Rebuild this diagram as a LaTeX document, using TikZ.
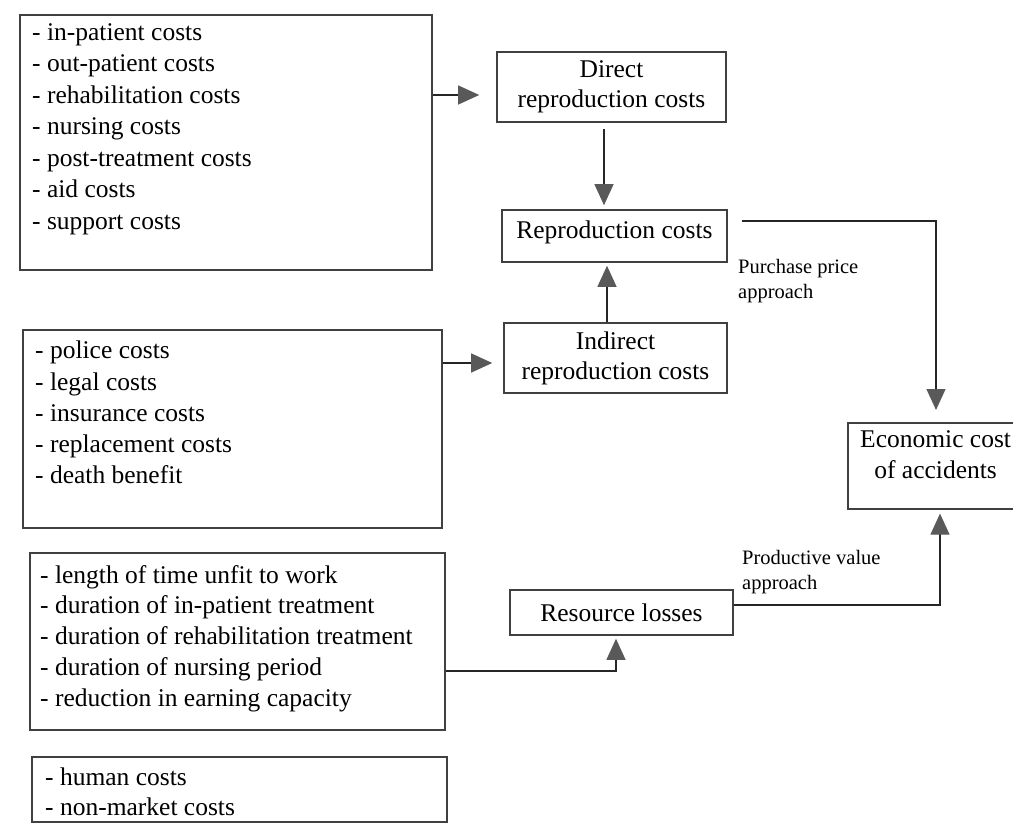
\documentclass[tikz,border=0pt]{standalone}
\usepackage{fontspec}
\setmainfont{Liberation Serif}
\usetikzlibrary{arrows.meta}
\begin{document}
\begin{tikzpicture}[x=1pt,y=-1pt,
  listbox/.style={draw=black!75, line width=1.6pt, inner sep=0pt},
  listtext/.style={anchor=north west, align=left, inner sep=0pt, font=\fontsize{25.5}{31.5}\selectfont},
  midbox/.style={draw=black!75, line width=1.6pt, align=center, inner sep=0pt, font=\fontsize{25.5}{30}\selectfont},
  lbl/.style={anchor=north west, align=left, inner sep=0pt, font=\fontsize{20.5}{25.5}\selectfont},
  conn/.style={draw=black!85, line width=1.1pt},
  arr/.style={conn, -{Triangle[length=21pt,width=19pt,color=black!65]}}
]
\useasboundingbox (0,0) rectangle (1013,824);
\fill[white] (0,0) rectangle (1013,824);
\begin{scope}
\clip (0,0) rectangle (1013,824);

% list boxes
\node[listbox, minimum width=412pt, minimum height=255pt] (L1) at (226,142.5) {};
\node[listtext] (L1t) at (32,23) {- in-patient costs\\- out-patient costs\\- rehabilitation costs\\- nursing costs\\- post-treatment costs\\- aid costs\\- support costs};

\node[listbox, minimum width=419pt, minimum height=198pt] (L2) at (232.5,429) {};
\node[listtext, font=\fontsize{25.5}{31.25}\selectfont] (L2t) at (35,341) {- police costs\\- legal costs\\- insurance costs\\- replacement costs\\- death benefit};

\node[listbox, minimum width=415pt, minimum height=177pt] (L3) at (237.5,641.5) {};
\node[listtext, font=\fontsize{25.5}{30.75}\selectfont] (L3t) at (40,565) {- length of time unfit to work\\- duration of in-patient treatment\\- duration of rehabilitation treatment\\- duration of nursing period\\- reduction in earning capacity};

\node[listbox, minimum width=415pt, minimum height=65pt] (L4) at (239.5,789.5) {};
\node[listtext, font=\fontsize{25.5}{30}\selectfont] (L4t) at (45,768) {- human costs\\- non-market costs};

% middle boxes
\node[midbox, minimum width=229pt, minimum height=70pt] (D) at (611.5,87) {Direct\\reproduction costs};
\node[midbox, minimum width=225pt, minimum height=52pt, text height=18pt, text depth=12pt] (R) at (614.5,236) {Reproduction costs};
\node[midbox, minimum width=223pt, minimum height=70pt] (I) at (615.5,358) {Indirect\\reproduction costs};
\node[midbox, minimum width=223pt, minimum height=45pt] (S) at (621.5,612.5) {Resource losses};

% economic cost box (runs off the right edge)
\node[listbox, anchor=north west, minimum width=200pt, minimum height=86pt] (E) at (847,422) {};
\node[anchor=north west, align=center, inner sep=0pt, font=\fontsize{25.5}{31}\selectfont] (Et) at (860,430) {Economic cost\\of accidents};

% labels
\node[lbl] (pp) at (738,259) {Purchase price\\approach};
\node[lbl] (pv) at (742,550) {Productive value\\approach};

% helper coordinates
\coordinate (y1) at (0,95);
\coordinate (y2) at (0,363);
\coordinate (xa) at (604,0);
\coordinate (xb) at (607,0);
\coordinate (c1) at (936,221);
\coordinate (c2) at (940,605);
\coordinate (c3) at (616,671);

% connectors
\draw[arr, shorten >=17pt] (L1.east |- y1) -- (D.west |- y1);
\draw[arr, shorten >=11pt] (L2.east |- y2) -- (I.west |- y2);
\draw[arr, shorten <=6pt, shorten >=4pt] (D.south -| xa) -- (R.north -| xa);
\draw[arr, shorten >=3pt] (I.north -| xb) -- (R.south -| xb);
\draw[arr, shorten <=14pt, shorten >=12pt] (R.east |- c1) -| (E.north -| c1);
\draw[arr, shorten >=4pt] (S.east |- c2) -| (E.south -| c2);
\draw[arr, shorten >=3pt] (L3.east |- c3) -| (S.south -| c3);
\end{scope}
\end{tikzpicture}
\end{document}
